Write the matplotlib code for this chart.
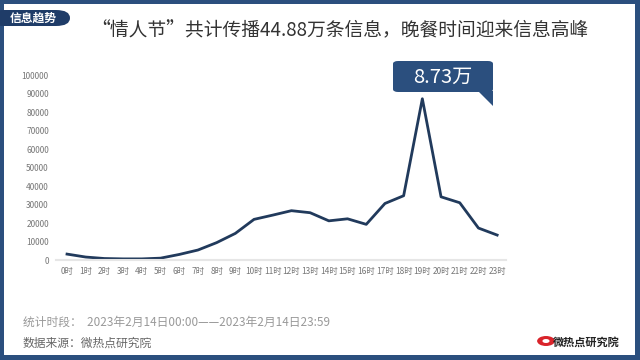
import matplotlib
matplotlib.use("Agg")
import matplotlib.pyplot as plt
from matplotlib.patches import Rectangle, FancyBboxPatch, Polygon, Circle

plt.rcParams["font.family"] = ["Noto Sans CJK SC", "DejaVu Sans"]

# 小时 / 信息量
hours = [f"{h}时" for h in range(24)]
values = [3200, 1600, 800, 600, 600, 1000, 3000, 5400, 9400, 14400,
          22000, 24300, 26700, 25600, 21200, 22300, 19300, 30600, 34800,
          87300, 34200, 31000, 17300, 13500]
yticks = list(range(0, 100001, 10000))
peak_label = "8.73万"

title = "“情人节”共计传播44.88万条信息，晚餐时间迎来信息高峰"
period = "统计时段：  2023年2月14日00:00——2023年2月14日23:59"
source = "数据来源：微热点研究院"

navy = "#2b4f7e"
line_c = "#213a5c"

W, H = 640, 360
fig = plt.figure(figsize=(6.4, 3.6), dpi=100)
fig.patch.set_facecolor("white")

def fx(px):
    return px / W

def fy(py):
    return 1 - py / H

# 外框
for r in [(0, 0, 4, H), (W - 5, 0, 5, H), (0, 0, W, 4), (0, H - 5, W, 5)]:
    fig.add_artist(Rectangle((fx(r[0]), fy(r[1] + r[3])), fx(r[2]), r[3] / H,
                             transform=fig.transFigure, color=navy, lw=0, zorder=0))

# 左上角标签
fig.add_artist(FancyBboxPatch((fx(-10), fy(26)), fx(80), 16 / H,
                              boxstyle="round,pad=0,rounding_size=0.022",
                              transform=fig.transFigure, color="#1f3c68", lw=0))
fig.text(fx(10), fy(18), "信息趋势", color="white", fontsize=8.5, va="center",
         ha="left", fontweight="bold")

fig.text(fx(340), fy(31), title, ha="center", va="center", fontsize=13.5,
         color="#333333", fontweight="medium")

# 图表区
ax = fig.add_axes([fx(55.8), fy(260), fx(450.7), 184.7 / H])
x = list(range(len(hours)))
ax.plot(x, values, color=line_c, lw=2, solid_joinstyle="round")
ax.set_xlim(-0.6, 23.5)
ax.set_ylim(0, 100000)
ax.set_xticks(x)
ax.set_xticklabels(hours, fontsize=6, color="#777777")
ax.set_yticks(yticks)
ax.set_yticklabels([str(v) for v in yticks], fontsize=6, color="#777777")
for s in ["top", "right", "left"]:
    ax.spines[s].set_visible(False)
ax.spines["bottom"].set_color("#e6e6e6")
ax.spines["bottom"].set_linewidth(1.5)
ax.tick_params(length=0, pad=5)
ax.tick_params(axis="y", pad=5)

# 峰值标注
fig.add_artist(FancyBboxPatch((fx(393), fy(92)), fx(100), 31 / H,
                              boxstyle="round,pad=0,rounding_size=0.008",
                              transform=fig.transFigure, color=navy, lw=0))
fig.add_artist(Polygon([(fx(478), fy(91)), (fx(493), fy(91)), (fx(493), fy(106))],
                       closed=True, transform=fig.transFigure, color=navy, lw=0))
fig.text(fx(443), fy(77), peak_label, color="white", fontsize=14.5,
         ha="center", va="center")

# 底部文字
fig.text(fx(23), fy(322), period, fontsize=8.5, color="#999999", va="center")
fig.text(fx(23), fy(343), source, fontsize=8.5, color="#666666", va="center")

# 标志
fig.add_artist(Circle((fx(546), fy(341)), 5 / H, transform=fig.transFigure,
                      color="#d9242b", lw=0))
fig.add_artist(Circle((fx(546), fy(341)), 2 / H, transform=fig.transFigure,
                      color="white", lw=0))
fig.text(fx(553), fy(342), "微热点研究院", fontsize=8, color="#222222",
         va="center", fontweight="bold")

fig.savefig("out.png", dpi=100)
